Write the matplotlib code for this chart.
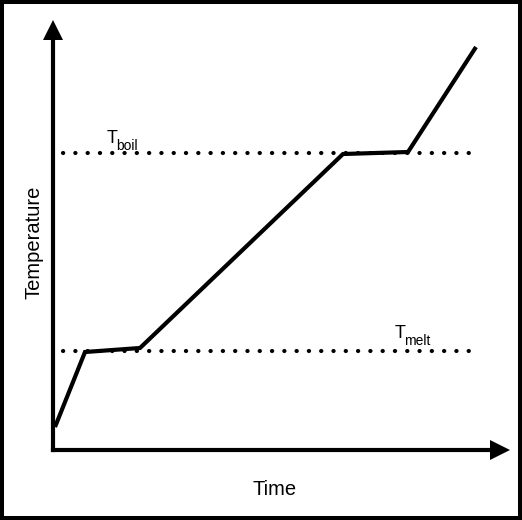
import matplotlib
matplotlib.use("Agg")
import matplotlib.pyplot as plt
from matplotlib.patches import Rectangle

plt.rcParams['font.family'] = ['Liberation Sans', 'DejaVu Sans']

# Heating curve (arbitrary units)
time = [2, 32, 87, 290, 355, 423]
temperature = [23, 98, 102, 296, 298, 403]
t_melt = 99
t_boil = 297
line_start, line_end = 10, 419
x_label = "Time"
y_label = "Temperature"

W, H = 522, 520
fig = plt.figure(figsize=(W / 100, H / 100), dpi=100)
ax = fig.add_axes([53 / W, (H - 450) / H, (500 - 53) / W, (450 - 30) / H])
ax.set_xlim(0, 447)
ax.set_ylim(0, 420)

for s in ['top', 'right']:
    ax.spines[s].set_visible(False)
for s in ['left', 'bottom']:
    ax.spines[s].set_linewidth(3)
ax.set_xticks([])
ax.set_yticks([])

# arrow heads
ax.plot(1, 0, marker='>', color='k', ms=14.5, transform=ax.transAxes, clip_on=False,
        markeredgewidth=0)
ax.plot(0, 1, marker='^', color='k', ms=14.5, transform=ax.transAxes, clip_on=False,
        markeredgewidth=0)

# reference lines
for t in (t_melt, t_boil):
    ax.plot([line_start, line_end], [t, t], color='k', lw=3,
            linestyle=(0, (0.05, 2.9)), dash_capstyle='round')

ax.plot(time, temperature, color='k', lw=3, solid_capstyle='butt',
        solid_joinstyle='miter')


def sub_label(x, y, main, sub):
    t = ax.text(x, y, main, fontsize=13, ha='left', va='baseline')
    ax.annotate(sub, xy=(1, 0), xycoords=t, xytext=(-1.0, -2),
                textcoords='offset points', fontsize=10, ha='left', va='baseline')


sub_label(54, t_boil + 10, 'T', 'boil')
sub_label(342, t_melt + 13, 'T', 'melt')

fig.text(275 / W, 1 - 495 / H, x_label, fontsize=14.5, ha='center', va='baseline')
fig.text(34 / W, 1 - 242 / H, y_label, fontsize=14.5, ha='center', va='center',
         rotation=90)

fig.add_artist(Rectangle((2 / W, 2 / H), (W - 4) / W, (H - 4) / H,
                         transform=fig.transFigure, fill=False, lw=2.9,
                         edgecolor='k'))

fig.savefig("out.png", dpi=100)
